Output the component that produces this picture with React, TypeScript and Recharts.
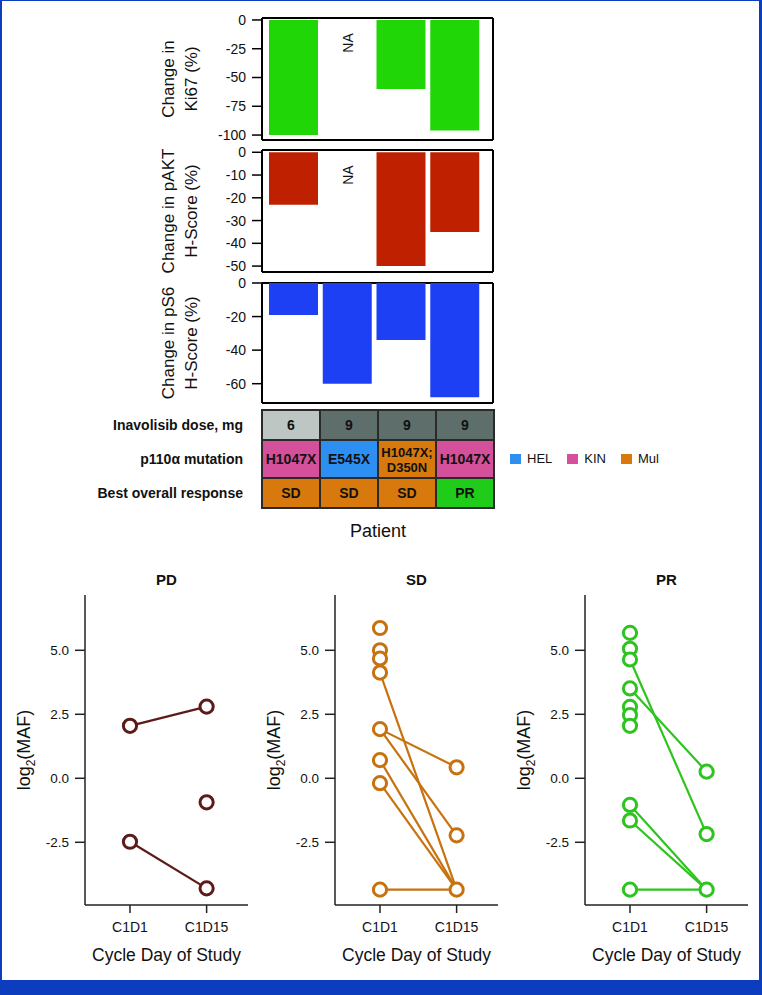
import React from "react";
import {
  BarChart,
  Bar,
  XAxis,
  YAxis,
  CartesianGrid,
  ReferenceDot,
  Label,
  LabelList,
  ScatterChart,
  Scatter,
} from "recharts";

const FONT = '"Liberation Sans", Arial, Helvetica, sans-serif';

// biomarker change per patient (NA = null)
const patients = ["P1", "P2", "P3", "P4"];
const ki67Change = [-100, null, -60, -96];
const paktChange = [-23, null, -50, -35];
const ps6Change = [-19, -60, -34, -68];
const ki67Ticks = [0, -25, -50, -75, -100];
const paktTicks = [0, -10, -20, -30, -40, -50];
const ps6Ticks = [0, -20, -40, -60];

// table under the bars
const doseValues = ["6", "9", "9", "9"];
const mutationValues = ["H1047X", "E545X", "H1047X;\nD350N", "H1047X"];
const mutationDomains = ["KIN", "HEL", "Mul", "KIN"];
const responseValues = ["SD", "SD", "SD", "PR"];
const legendDomains = ["HEL", "KIN", "Mul"];

// log2(MAF) by visit
const cycleTicks = ["C1D1", "C1D15"];
const mafTicks = [-2.5, 0, 2.5, 5];

const pdC1D1 = [2.05, -2.48];
const pdC1D15 = [2.8, -0.94, -4.3];
const pdLinks = [
  [2.05, 2.8],
  [-2.48, -4.3],
];

const sdC1D1 = [5.87, 5.0, 4.68, 4.13, 1.92, 0.71, -0.19, -4.35];
const sdC1D15 = [0.43, -2.23, -4.35];
const sdLinks = [
  [4.13, -4.35],
  [1.92, 0.43],
  [1.92, -2.23],
  [0.71, -4.35],
  [-0.19, -4.35],
  [-4.35, -4.35],
];

const prC1D1 = [5.68, 5.06, 4.64, 3.51, 2.79, 2.47, 2.05, -1.04, -1.65, -4.35];
const prC1D15 = [0.26, -2.18, -4.35];
const prLinks = [
  [4.64, -2.18],
  [3.51, 0.26],
  [-1.04, -4.35],
  [-1.65, -4.35],
  [-4.35, -4.35],
];

const doseColor: Record<string, string> = { "6": "#bdc6c3", "9": "#5e6e6b" };
const domainColor: Record<string, string> = {
  HEL: "#2e8ff2",
  KIN: "#d5509a",
  Mul: "#d8790d",
};
const responseColor: Record<string, string> = { SD: "#d8790d", PR: "#1fcc1a" };

// frame around each bar panel
const boxH = ({ offset }: any) => [offset.top, offset.top + offset.height];
const boxV = ({ offset }: any) => [offset.left, offset.left + offset.width];

function TwoLineLabel(lines: string[]) {
  return (props: any) => {
    const vb = props.viewBox || { x: 0, y: 0, height: 0 };
    const cy = vb.y + vb.height / 2;
    const xs = [vb.x + 174, vb.x + 197];
    return (
      <g>
        {lines.map((l, i) => (
          <text
            key={i}
            x={xs[i]}
            y={cy}
            transform={`rotate(-90, ${xs[i]}, ${cy})`}
            textAnchor="middle"
            fontSize={17}
            fill="#111"
          >
            {l}
          </text>
        ))}
      </g>
    );
  };
}

const NaLabel = (props: any) => {
  const vb = props.viewBox || { x: 0, y: 0, width: 0, height: 0 };
  const cx = vb.x + (vb.width || 0) / 2;
  const cy = vb.y + (vb.height || 0) / 2;
  return (
    <text
      x={cx}
      y={cy}
      transform={`rotate(-90, ${cx}, ${cy})`}
      textAnchor="middle"
      dominantBaseline="central"
      fontSize={14}
      fill="#111"
    >
      NA
    </text>
  );
};

function ChangePanel({
  top,
  height,
  values,
  domain,
  ticks,
  color,
  lines,
  naY,
}: {
  top: number;
  height: number;
  values: (number | null)[];
  domain: [number, number];
  ticks: number[];
  color: string;
  lines: string[];
  naY?: number;
}) {
  const data = patients.map((p, i) => ({ patient: p, value: values[i] }));
  return (
    <div style={{ position: "absolute", left: 0, top }}>
      <BarChart
        width={500}
        height={height}
        data={data}
        margin={{ top: 8, right: 7, bottom: 5, left: 0 }}
      >
        <CartesianGrid
          stroke="#000"
          strokeWidth={2}
          horizontalCoordinatesGenerator={boxH}
          verticalCoordinatesGenerator={boxV}
        />
        <XAxis
          dataKey="patient"
          type="category"
          height={0}
          tick={false}
          tickLine={false}
          axisLine={false}
          padding={{ left: 5, right: 11 }}
        />
        <YAxis
          type="number"
          domain={domain}
          ticks={ticks}
          width={262}
          axisLine={false}
          tickSize={10}
          tickMargin={6}
          tickLine={{ stroke: "#000", strokeWidth: 1.5 }}
          tick={{ fontSize: 14, fill: "#111" }}
          interval={0}
        >
          <Label content={TwoLineLabel(lines)} />
        </YAxis>
        <Bar dataKey="value" fill={color} barSize={49} isAnimationActive={false} />
        {naY !== undefined && (
          <ReferenceDot
            x="P2"
            y={naY}
            r={0}
            fill="none"
            stroke="none"
            label={<NaLabel />}
          />
        )}
      </BarChart>
    </div>
  );
}

const CellText = (props: any) => {
  const vb = props.viewBox || props;
  const x = vb.x ?? props.x;
  const y = vb.y ?? props.y;
  const w = vb.width ?? props.width;
  const h = vb.height ?? props.height;
  const lines = String(props.value ?? "").split("\n");
  const cx = x + w / 2;
  const lh = 15;
  const fs = lines.length > 1 ? 13 : 14;
  const y0 = y + h / 2 - ((lines.length - 1) * lh) / 2;
  return (
    <text
      x={cx}
      y={y0}
      textAnchor="middle"
      dominantBaseline="central"
      fontSize={fs}
      fontWeight={700}
      fill="#111"
    >
      {lines.map((l, i) => (
        <tspan key={i} x={cx} dy={i === 0 ? 0 : lh}>
          {l}
        </tspan>
      ))}
    </text>
  );
};

function TableRow({
  top,
  height,
  label,
  texts,
  colors,
}: {
  top: number;
  height: number;
  label: string;
  texts: string[];
  colors: string[];
}) {
  const row: Record<string, string | number> = { row: label };
  texts.forEach((t, i) => {
    row[`c${i}`] = 1;
    row[`t${i}`] = t;
  });
  return (
    <div style={{ position: "absolute", left: 0, top: top - 1 }}>
      <BarChart
        layout="vertical"
        width={500}
        height={height + 2}
        data={[row]}
        margin={{ top: 1, right: 6, bottom: 1, left: 0 }}
        barCategoryGap={0}
      >
        <XAxis type="number" domain={[0, 4]} hide />
        <YAxis
          type="category"
          dataKey="row"
          width={262}
          tickLine={false}
          axisLine={false}
          tickSize={0}
          tickMargin={19}
          tick={{ fontSize: 14, fontWeight: 700, fill: "#111" }}
        />
        {texts.map((_, i) => (
          <Bar
            key={i}
            dataKey={`c${i}`}
            stackId="t"
            fill={colors[i]}
            stroke="#2a2a2a"
            strokeWidth={2}
            isAnimationActive={false}
          >
            <LabelList dataKey={`t${i}`} content={CellText} />
          </Bar>
        ))}
      </BarChart>
    </div>
  );
}

const EmptyShape = () => <g />;

const CycleLabel = (props: any) => {
  const vb = props.viewBox || { x: 0, y: 0, width: 0 };
  return (
    <text
      x={vb.x + vb.width / 2}
      y={vb.y + 56}
      textAnchor="middle"
      fontSize={17.5}
      fill="#111"
    >
      Cycle Day of Study
    </text>
  );
};

const MafLabel = (props: any) => {
  const vb = props.viewBox || { x: 0, y: 0, height: 0 };
  const cx = vb.x + 30;
  const cy = vb.y + vb.height / 2;
  return (
    <text
      x={cx}
      y={cy}
      transform={`rotate(-90, ${cx}, ${cy})`}
      textAnchor="middle"
      fontSize={18}
      fill="#111"
    >
      <tspan>log</tspan>
      <tspan dy={5} fontSize={12}>
        2
      </tspan>
      <tspan dy={-5}>(MAF)</tspan>
    </text>
  );
};

function MafPanel({
  left,
  title,
  color,
  c1d1,
  c1d15,
  links,
}: {
  left: number;
  title: string;
  color: string;
  c1d1: number[];
  c1d15: number[];
  links: number[][];
}) {
  const points = [
    ...c1d1.map((y) => ({ x: 1, y })),
    ...c1d15.map((y) => ({ x: 2, y })),
  ];
  const Ring = (p: any) => (
    <circle cx={p.cx} cy={p.cy} r={6.6} fill="#fff" stroke={color} strokeWidth={3} />
  );
  return (
    <div style={{ position: "absolute", left, top: 560, width: 250 }}>
      <div
        style={{
          position: "absolute",
          left: 85,
          width: 163,
          top: 11,
          lineHeight: "18px",
          textAlign: "center",
          fontWeight: 700,
          fontSize: 15,
          color: "#111",
        }}
      >
        {title}
      </div>
      <ScatterChart
        width={250}
        height={405}
        margin={{ top: 35, right: 2, bottom: 0, left: 0 }}
      >
        <XAxis
          type="number"
          dataKey="x"
          domain={[0.413, 2.54]}
          ticks={[1, 2]}
          tickFormatter={(v) => cycleTicks[v - 1]}
          height={60}
          tickSize={8}
          tickMargin={9}
          stroke="#222"
          strokeWidth={1.5}
          tick={{ fontSize: 14, fill: "#111" }}
          allowDataOverflow
        >
          <Label content={CycleLabel} />
        </XAxis>
        <YAxis
          type="number"
          dataKey="y"
          domain={[-4.95, 7.16]}
          ticks={mafTicks}
          tickFormatter={(v) => Number(v).toFixed(1)}
          width={85}
          tickSize={10}
          tickMargin={6}
          stroke="#222"
          strokeWidth={1.5}
          tick={{ fontSize: 13.5, fill: "#111" }}
          allowDataOverflow
        >
          <Label content={MafLabel} />
        </YAxis>
        {links.map(([a, b], i) => (
          <Scatter
            key={i}
            data={[
              { x: 1, y: a },
              { x: 2, y: b },
            ]}
            line={{ stroke: color, strokeWidth: 2.2 }}
            shape={EmptyShape}
            isAnimationActive={false}
          />
        ))}
        <Scatter data={points} shape={Ring} isAnimationActive={false} />
      </ScatterChart>
    </div>
  );
}

export default function App() {
  return (
    <div
      style={{
        position: "absolute",
        left: 0,
        top: 0,
        width: 762,
        height: 995,
        background: "#fff",
        fontFamily: FONT,
        overflow: "hidden",
      }}
    >
      <div
        style={{
          position: "absolute",
          left: 0,
          top: 0,
          width: 762,
          height: 980,
          boxSizing: "border-box",
          borderTop: "1px solid #0c3dbf",
          borderLeft: "2px solid #0c3dbf",
          borderRight: "3px solid #0c3dbf",
        }}
      />
      <div
        style={{
          position: "absolute",
          left: 0,
          top: 980,
          width: 762,
          height: 15,
          background: "#0c3dbf",
        }}
      />

      <ChangePanel
        top={10}
        height={135}
        values={ki67Change}
        domain={[-104.3, 1.7]}
        ticks={ki67Ticks}
        color="#21d606"
        lines={["Change in", "Ki67 (%)"]}
        naY={-20}
      />
      <ChangePanel
        top={142}
        height={135}
        values={paktChange}
        domain={[-52.6, 1.0]}
        ticks={paktTicks}
        color="#bf2100"
        lines={["Change in pAKT", "H-Score (%)"]}
        naY={-10}
      />
      <ChangePanel
        top={275}
        height={133}
        values={ps6Change}
        domain={[-71.5, 0]}
        ticks={ps6Ticks}
        color="#1e40f5"
        lines={["Change in pS6", "H-Score (%)"]}
      />

      <TableRow
        top={410}
        height={30}
        label="Inavolisib dose, mg"
        texts={doseValues}
        colors={doseValues.map((d) => doseColor[d])}
      />
      <TableRow
        top={440}
        height={38}
        label="p110α mutation"
        texts={mutationValues}
        colors={mutationDomains.map((d) => domainColor[d])}
      />
      <TableRow
        top={478}
        height={30}
        label="Best overall response"
        texts={responseValues}
        colors={responseValues.map((r) => responseColor[r])}
      />

      <div
        style={{
          position: "absolute",
          left: 510,
          top: 451,
          display: "flex",
          gap: 15,
          fontSize: 13,
          color: "#111",
          lineHeight: "16px",
        }}
      >
        {legendDomains.map((d) => (
          <div key={d} style={{ display: "flex", alignItems: "center", gap: 6 }}>
            <span
              style={{
                display: "inline-block",
                width: 11,
                height: 10,
                background: domainColor[d],
              }}
            />
            <span>{d}</span>
          </div>
        ))}
      </div>

      <div
        style={{
          position: "absolute",
          left: 262,
          width: 232,
          top: 520,
          textAlign: "center",
          fontSize: 18,
          lineHeight: "22px",
          color: "#111",
        }}
      >
        Patient
      </div>

      <MafPanel
        left={0}
        title="PD"
        color="#5c1a18"
        c1d1={pdC1D1}
        c1d15={pdC1D15}
        links={pdLinks}
      />
      <MafPanel
        left={250}
        title="SD"
        color="#c8720f"
        c1d1={sdC1D1}
        c1d15={sdC1D15}
        links={sdLinks}
      />
      <MafPanel
        left={500}
        title="PR"
        color="#2ec41f"
        c1d1={prC1D1}
        c1d15={prC1D15}
        links={prLinks}
      />
    </div>
  );
}
